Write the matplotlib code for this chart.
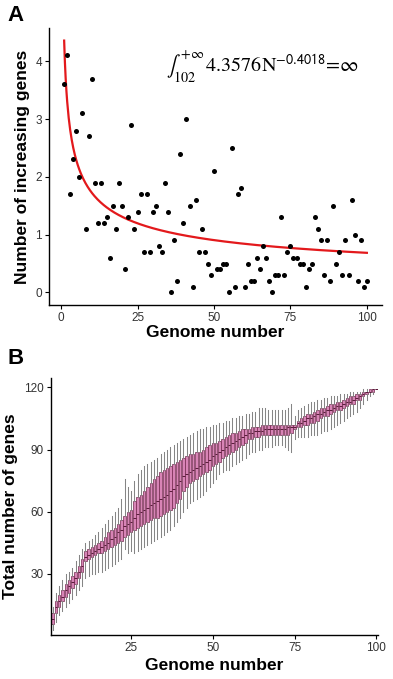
import numpy as np
import matplotlib
matplotlib.use("Agg")
import matplotlib.pyplot as plt

plt.rcParams['font.family'] = ['Liberation Sans', 'DejaVu Sans']
plt.rcParams['mathtext.fontset'] = 'stix'

# panel A: new genes per added genome
genome = list(range(1, 101))
new_genes = [3.6, 4.1, 1.7, 2.3, 2.8, 2.0, 3.1, 1.1, 2.7, 3.7,
             1.9, 1.2, 1.9, 1.2, 1.3, 0.6, 1.5, 1.1, 1.9, 1.5,
             0.4, 1.3, 2.9, 1.1, 1.4, 1.7, 0.7, 1.7, 0.7, 1.4,
             1.5, 0.8, 0.7, 1.9, 1.4, 0.0, 0.9, 0.2, 2.4, 1.2,
             3.0, 1.5, 0.1, 1.6, 0.7, 1.1, 0.7, 0.5, 0.3, 2.1,
             0.4, 0.4, 0.5, 0.5, 0.0, 2.5, 0.1, 1.7, 1.8, 0.1,
             0.5, 0.2, 0.2, 0.6, 0.4, 0.8, 0.6, 0.2, 0.0, 0.3,
             0.3, 1.3, 0.3, 0.7, 0.8, 0.6, 0.6, 0.5, 0.5, 0.1,
             0.4, 0.5, 1.3, 1.1, 0.9, 0.3, 0.9, 0.2, 1.5, 0.5,
             0.7, 0.3, 0.9, 0.3, 1.6, 1.0, 0.2, 0.9, 0.1, 0.2]
fit_a, fit_b = 4.3576, -0.4018

# panel B: total genes, box stats per genome number
box_med = [8, 14, 17, 19, 22, 24, 26, 28, 31, 34,
           38, 39, 40, 41, 42, 43, 44, 45, 47, 48,
           50, 51, 53, 54, 55, 57, 59, 60, 61, 62,
           63, 64, 65, 66, 67, 68, 70, 71, 73, 75,
           77, 78, 79, 80, 81, 82, 83, 84, 85, 87,
           88, 89, 90, 91, 92, 93, 94, 95, 96, 97,
           98, 98, 99, 99, 99, 100, 100, 100, 100, 100,
           100, 100, 101, 101, 101, 103, 103, 104, 105, 105,
           106, 107, 107, 108, 109, 109, 110, 111, 111, 112,
           113, 113, 114, 115, 116, 117, 118, 118, 119, 119]
box_q1 = [6, 11, 14, 17, 19, 21, 23, 25, 28, 31,
          36, 37, 38, 39, 40, 40, 41, 42, 43, 44,
          45, 46, 48, 49, 50, 51, 52, 53, 54, 55,
          56, 57, 57, 58, 59, 60, 61, 62, 64, 66,
          70, 72, 74, 75, 76, 77, 78, 79, 80, 82,
          83, 84, 86, 87, 88, 89, 90, 91, 92, 93,
          95, 95, 96, 96, 97, 97, 97, 97, 97, 97,
          97, 97, 97, 98, 100, 101, 101, 102, 102, 103,
          103, 104, 105, 106, 106, 107, 108, 109, 109, 110,
          111, 112, 112, 114, 114, 116, 117, 118, 118, 119]
box_q3 = [11, 17, 20, 22, 25, 27, 29, 31, 34, 37,
          41, 42, 43, 44, 45, 46, 48, 50, 51, 52,
          54, 56, 58, 60, 61, 65, 67, 68, 70, 72,
          74, 76, 77, 79, 80, 81, 82, 83, 84, 85,
          86, 87, 88, 88, 89, 89, 90, 91, 92, 93,
          93, 94, 95, 96, 97, 98, 98, 99, 100, 100,
          100, 101, 101, 101, 102, 102, 102, 102, 102, 102,
          102, 102, 102, 102, 102, 104, 105, 106, 107, 107,
          108, 109, 110, 110, 111, 112, 112, 113, 113, 114,
          115, 116, 116, 117, 117, 118, 118, 119, 119, 119]
box_lo = [3, 7, 10, 12, 14, 16, 18, 20, 22, 24,
          28, 29, 30, 30, 31, 31, 32, 33, 34, 35,
          36, 37, 42, 40, 41, 40, 41, 42, 43, 44,
          45, 46, 47, 48, 49, 50, 51, 53, 55, 57,
          60, 62, 64, 65, 66, 67, 68, 70, 72, 74,
          76, 78, 79, 80, 80, 82, 83, 84, 85, 86,
          88, 89, 89, 90, 90, 91, 91, 91, 92, 92,
          92, 91, 90, 89, 95, 96, 96, 96, 96, 97,
          97, 97, 98, 99, 99, 100, 101, 102, 103, 104,
          105, 106, 107, 108, 110, 112, 114, 116, 117, 119]
box_hi = [14, 21, 24, 27, 30, 31, 33, 36, 39, 42,
          45, 46, 47, 49, 50, 52, 54, 56, 58, 60,
          62, 66, 76, 72, 70, 75, 78, 80, 82, 83,
          84, 85, 86, 88, 89, 90, 91, 92, 93, 94,
          95, 96, 97, 98, 99, 100, 100, 101, 101, 102,
          102, 103, 103, 104, 104, 105, 105, 106, 106, 107,
          107, 108, 108, 110, 110, 110, 109, 109, 109, 109,
          109, 109, 110, 112, 106, 109, 110, 111, 112, 113,
          113, 114, 114, 115, 115, 116, 116, 116, 117, 117,
          117, 118, 118, 118, 118, 119, 119, 119, 119, 119]

tick_col = '#333333'
fig = plt.figure(figsize=(3.93, 6.79), dpi=100)

# ---- panel A ----
axA = fig.add_axes([0.1247, 0.5508, 0.8473, 0.408])
axA.scatter(genome, new_genes, s=13, color='black', zorder=3, linewidths=0)
nn = np.linspace(1, 100, 400)
axA.plot(nn, fit_a * nn ** fit_b, color='#E3191C', lw=1.6, zorder=2)
axA.set_xlim(-3.95, 104.95)
axA.set_ylim(-0.218, 4.576)
axA.set_xticks([0, 25, 50, 75, 100])
axA.set_yticks([0, 1, 2, 3, 4])
axA.set_xlabel('Genome number', fontsize=12.5, fontweight='bold', labelpad=1)
axA.set_ylabel('Number of increasing genes', fontsize=12.5, fontweight='bold', labelpad=4)
axA.text(66, 3.9, r'$\int_{102}^{+\infty}\,4.3576\mathrm{N}^{\mathsf{-0.4018}}\!=\!\infty$',
         fontsize=14.5, ha='center', va='center')

# ---- panel B ----
axB = fig.add_axes([0.129, 0.0643, 0.8336, 0.3794])
stats = []
for i in range(len(genome)):
    stats.append(dict(med=box_med[i], q1=box_q1[i], q3=box_q3[i],
                      whislo=box_lo[i], whishi=box_hi[i], fliers=[]))
axB.bxp(stats, positions=genome, widths=0.75, patch_artist=True, showcaps=False,
        boxprops=dict(facecolor='#D884B6', edgecolor='#74284F', linewidth=0.5),
        medianprops=dict(color='#5A1A3A', linewidth=0.7),
        whiskerprops=dict(color='#858585', linewidth=0.75),
        manage_ticks=False)
axB.set_xlim(0.4, 100.6)
axB.set_ylim(0.35, 124.65)
axB.set_xticks([25, 50, 75, 100])
axB.set_yticks([30, 60, 90, 120])
axB.set_xlabel('Genome number', fontsize=12.5, fontweight='bold', labelpad=3)
axB.set_ylabel('Total number of genes', fontsize=12.5, fontweight='bold', labelpad=4)

for ax in (axA, axB):
    for s in ('top', 'right'):
        ax.spines[s].set_visible(False)
    for s in ('left', 'bottom'):
        ax.spines[s].set_linewidth(1.0)
    ax.tick_params(length=3, width=0.8, labelsize=8.5, labelcolor=tick_col, pad=2)

fig.text(0.02, 0.993, 'A', fontsize=16, fontweight='bold', va='top')
fig.text(0.02, 0.488, 'B', fontsize=16, fontweight='bold', va='top')

fig.savefig('out.png', dpi=100)
